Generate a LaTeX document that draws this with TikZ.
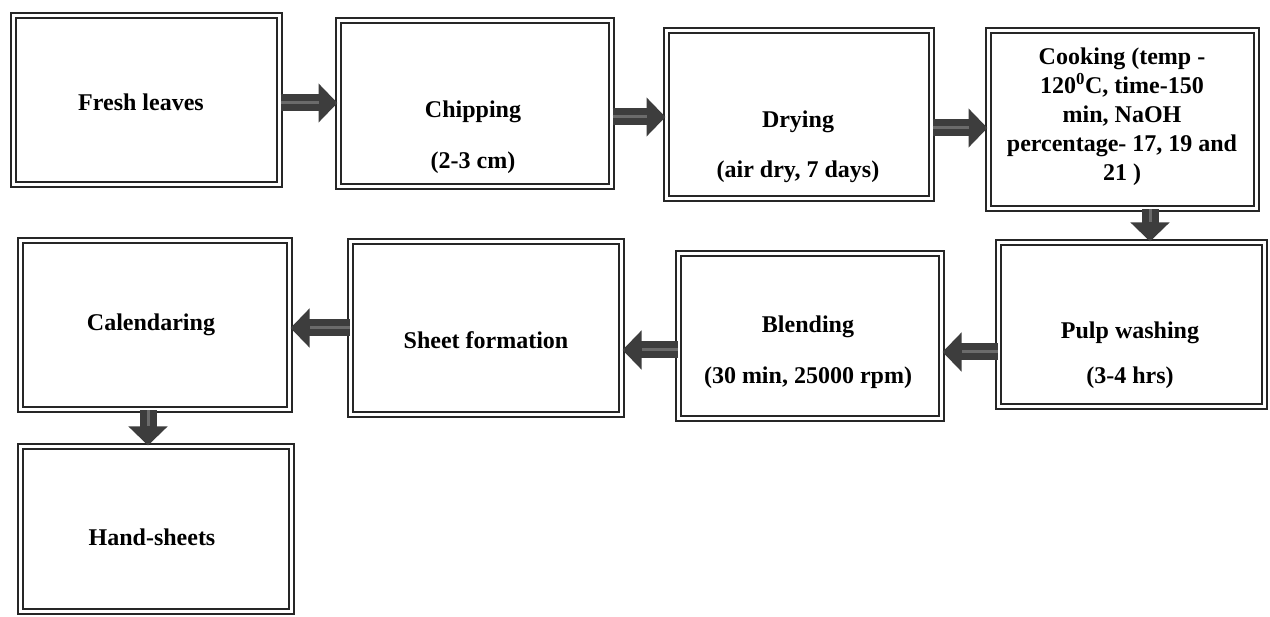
\documentclass[tikz,border=0pt]{standalone}
\usepackage{fontspec}
\setmainfont{Liberation Serif}
\usetikzlibrary{arrows.meta,calc}
\begin{document}
\begin{tikzpicture}[x=1pt,y=-1pt,
  box/.style={draw=black!85, double=white, double distance=2.6pt, line width=2.4pt, fill=white, inner sep=0pt},
  lbl/.style={font=\fontsize{24}{29}\selectfont\bfseries, align=center, inner sep=0pt},
  blk/.style={line width=17pt, draw=black!76, -{Triangle[width=38pt,length=19pt]},
    postaction={draw=black!58, line width=3pt, -, shorten >=19pt}}]
\useasboundingbox (0,0) rectangle (1270,617);
\fill[white] (0,0) rectangle (1270,617);

% boxes
\node[box, minimum width=265.6pt, minimum height=168.6pt] (fresh) at (146.5,100) {};
\node[box, minimum width=272.6pt, minimum height=165.6pt] (chip)  at (475,103.5) {};
\node[box, minimum width=264.6pt, minimum height=167.6pt] (dry)   at (799,114.5) {};
\node[box, minimum width=267.6pt, minimum height=177.6pt] (cook)  at (1122.5,119.5) {};
\node[box, minimum width=265.6pt, minimum height=163.6pt] (pulp)  at (1131.5,324.5) {};
\node[box, minimum width=262.6pt, minimum height=164.6pt] (blend) at (810,336) {};
\node[box, minimum width=270.6pt, minimum height=172.6pt] (sheet) at (486,328) {};
\node[box, minimum width=268.6pt, minimum height=168.6pt] (cal)   at (155,325) {};
\node[box, minimum width=270.6pt, minimum height=164.6pt] (hand)  at (156,529) {};

% labels
\node[lbl] (freshT) at (141,102) {Fresh leaves};
\node[lbl] (chipT)  at (473,112) {Chipping};
\node[lbl] (chipS)  at (473,163) {(2-3 cm)};
\node[lbl] (dryT)   at (798,122) {Drying};
\node[lbl] (dryS)   at (798,172) {(air dry, 7 days)};
\node[lbl] (cookT)  at (1122,117) {Cooking (temp -\\120\textsuperscript{0}C, time-150\\min, NaOH\\percentage- 17, 19 and\\21 )};
\node[lbl] (pulpT)  at (1130,333) {Pulp washing};
\node[lbl] (pulpS)  at (1130,378) {(3-4 hrs)};
\node[lbl] (blendT) at (808,327) {Blending};
\node[lbl] (blendS) at (808,378) {(30 min, 25000 rpm)};
\node[lbl] (sheetT) at (486,340) {Sheet formation};
\node[lbl] (calT)   at (151,325) {Calendaring};
\node[lbl] (handT)  at (152,537) {Hand-sheets};

% arrows
\draw[blk] ($(fresh.east)+(0,3)$) -- ($(chip.west |- fresh.east)+(0,3)$);
\draw[blk] ($(chip.east)+(0,13.5)$) -- ($(dry.west |- chip.east)+(0,13.5)$);
\draw[blk] ($(dry.east)+(0,13.5)$) -- ($(cook.west |- dry.east)+(0,13.5)$);
\draw[blk] ($(cook.south)+(27.5,0)$) -- ($(pulp.north -| cook.south)+(27.5,0)$);
\draw[blk] ($(pulp.west)+(0,27.5)$) -- ($(blend.east |- pulp.west)+(0,27.5)$);
\draw[blk] ($(blend.west)+(0,14)$) -- ($(sheet.east |- blend.west)+(0,14)$);
\draw[blk] (sheet.west) -- (sheet.west -| cal.east);
\draw[blk] ($(cal.south)+(-7,0)$) -- ($(hand.north -| cal.south)+(-7,0)$);
\end{tikzpicture}
\end{document}
